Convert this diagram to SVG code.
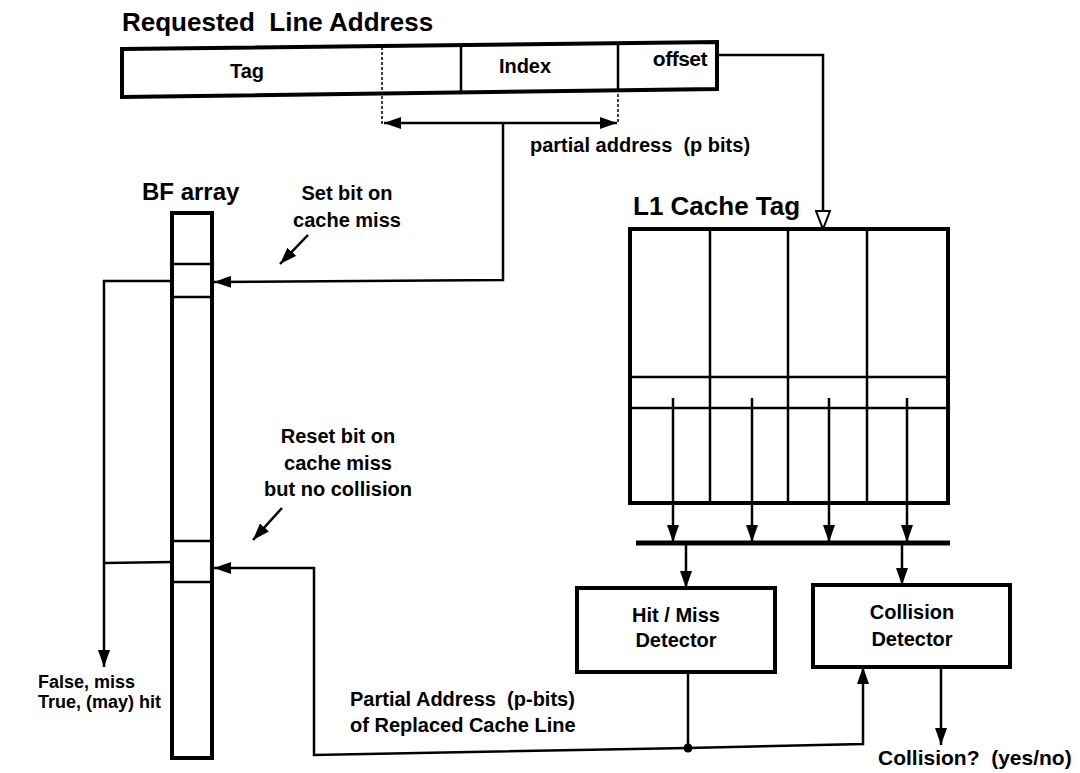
<svg xmlns="http://www.w3.org/2000/svg" width="1080" height="773" viewBox="0 0 1080 773">
<style>
text{font-family:"Liberation Sans",Arial,sans-serif;font-weight:bold;fill:#000;white-space:pre}
.box{fill:#fff;stroke:#000;stroke-width:4}
.cell{fill:none;stroke:#000;stroke-width:2.5}
.ln{fill:none;stroke:#000;stroke-width:2.5}
.dash{fill:none;stroke:#000;stroke-width:1.5;stroke-dasharray:3 2}
.arw{marker-end:url(#ah)}
</style>
<defs>
<marker id="ah" viewBox="0 0 17 12" refX="17" refY="6" markerWidth="17" markerHeight="12" markerUnits="userSpaceOnUse" orient="auto-start-reverse"><path d="M0,0 L17,6 L0,12 z" fill="#000"/></marker>
<marker id="hollow" viewBox="0 0 20 16" refX="19" refY="8" markerWidth="20" markerHeight="16" markerUnits="userSpaceOnUse" orient="auto"><path d="M1,1 L19,8 L1,15 z" fill="#fff" stroke="#000" stroke-width="2"/></marker>
</defs>
<rect width="1080" height="773" fill="#fff"/>

<g id="address">
<text x="122" y="31" font-size="26" xml:space="preserve">Requested  Line Address</text>
<polygon class="box" points="122,49 717,42 717,89 122,97"/>
<line class="dash" x1="382" y1="47" x2="382" y2="94"/>
<line class="cell" x1="461" y1="46" x2="461" y2="93"/>
<line class="cell" x1="618" y1="43" x2="618" y2="90"/>
<text x="247" y="78" font-size="20" text-anchor="middle">Tag</text>
<text x="525" y="73" font-size="20" text-anchor="middle">Index</text>
<text x="707" y="66" font-size="21" text-anchor="end" letter-spacing="-0.5">offset</text>
</g>

<g id="partial-label">
<text x="530" y="152" font-size="20" xml:space="preserve">partial address  (p bits)</text>
</g>

<g id="bf-array">
<text x="142" y="200" font-size="24">BF array</text>
<rect class="box" x="172" y="213" width="40" height="545"/>
<line class="cell" x1="172" y1="264" x2="212" y2="264"/>
<line class="cell" x1="172" y1="297" x2="212" y2="297"/>
<line class="cell" x1="172" y1="541" x2="212" y2="541"/>
<line class="cell" x1="172" y1="582" x2="212" y2="582"/>
</g>

<g id="set-label">
<text x="347" y="200" font-size="20" text-anchor="middle">Set bit on</text>
<text x="347" y="227" font-size="20" text-anchor="middle">cache miss</text>
</g>

<g id="reset-label">
<text x="338" y="443" font-size="20" text-anchor="middle">Reset bit on</text>
<text x="338" y="470" font-size="20" text-anchor="middle">cache miss</text>
<text x="338" y="496" font-size="20" text-anchor="middle">but no collision</text>
</g>

<g id="result-label">
<text x="38" y="688" font-size="18">False, miss</text>
<text x="38" y="708" font-size="18">True, (may) hit</text>
</g>

<g id="replaced-label">
<text x="350" y="706" font-size="20" xml:space="preserve">Partial Address  (p-bits)</text>
<text x="350" y="732" font-size="20">of Replaced Cache Line</text>
</g>

<g id="l1-cache-tag">
<text x="633" y="215" font-size="26">L1 Cache Tag</text>
<rect class="box" x="630" y="229" width="318" height="274"/>
<line class="cell" x1="710" y1="229" x2="710" y2="503"/>
<line class="cell" x1="788" y1="229" x2="788" y2="503"/>
<line class="cell" x1="867" y1="229" x2="867" y2="503"/>
<line class="cell" x1="630" y1="377" x2="948" y2="377"/>
<line class="cell" x1="630" y1="408" x2="948" y2="408"/>
</g>

<g id="hit-miss">
<rect class="box" x="577" y="588" width="198" height="84"/>
<text x="676" y="622" font-size="20" text-anchor="middle">Hit / Miss</text>
<text x="676" y="647" font-size="20" text-anchor="middle">Detector</text>
</g>

<g id="collision">
<rect class="box" x="813" y="585" width="197" height="82"/>
<text x="912" y="619" font-size="20" text-anchor="middle">Collision</text>
<text x="912" y="646" font-size="20" text-anchor="middle">Detector</text>
<text x="878" y="765" font-size="21" xml:space="preserve">Collision?  (yes/no)</text>
</g>

<g id="connectors">
<polyline class="ln" points="717,55 823,55 823,229" marker-end="url(#hollow)"/>
<line class="dash" x1="382" y1="96" x2="382" y2="124"/>
<line class="dash" x1="618" y1="89" x2="618" y2="122"/>
<line class="ln" x1="384" y1="123" x2="617" y2="123" marker-start="url(#ah)" marker-end="url(#ah)"/>
<polyline class="ln arw" points="503,123 503,280 214,282"/>
<polyline class="ln arw" points="172,281 104,281 104,667"/>
<line class="ln" x1="104" y1="563" x2="172" y2="562"/>
<line class="ln arw" x1="308" y1="235" x2="280" y2="264"/>
<line class="ln arw" x1="282" y1="508" x2="253" y2="540"/>
<line class="ln arw" x1="673" y1="398" x2="673" y2="542"/>
<line class="ln arw" x1="752" y1="398" x2="752" y2="542"/>
<line class="ln arw" x1="829" y1="398" x2="829" y2="542"/>
<line class="ln arw" x1="907" y1="398" x2="907" y2="542"/>
<line x1="636" y1="543" x2="950" y2="543" stroke="#000" stroke-width="5"/>
<line class="ln arw" x1="686" y1="545" x2="686" y2="588"/>
<line class="ln arw" x1="902" y1="545" x2="902" y2="585"/>
<line class="ln arw" x1="941" y1="667" x2="941" y2="745"/>
<polyline class="ln" points="688,672 688,748"/>
<polyline class="ln arw" points="688,748 314,755 314,568 214,568"/>
<polyline class="ln arw" points="688,748 863,744 863,667"/>
<circle cx="688" cy="748" r="4.5" fill="#000"/>
</g>
</svg>
